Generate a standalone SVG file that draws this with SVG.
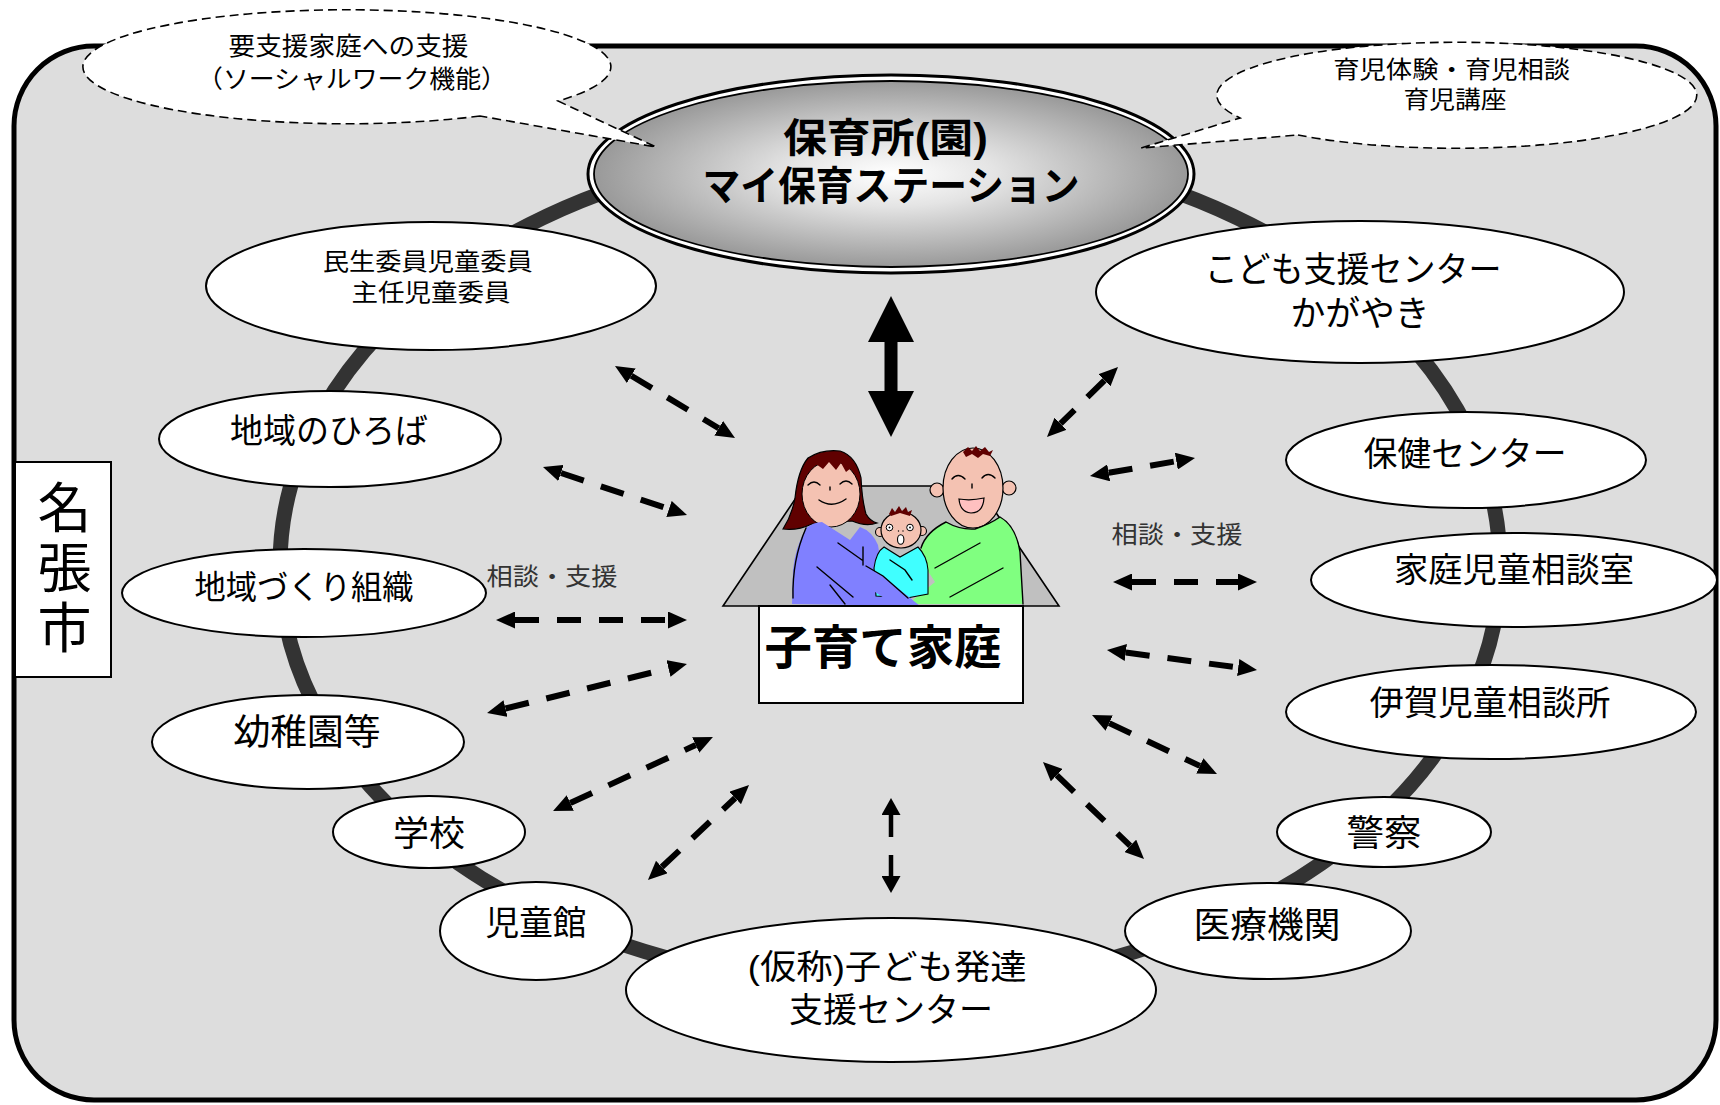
<svg xmlns="http://www.w3.org/2000/svg" width="1720" height="1105" viewBox="0 0 1720 1105">
  <style>
    .t { font-family: 'Liberation Sans', 'Noto Sans CJK JP', sans-serif; fill: #000; text-anchor: middle; }
    .b { font-weight: bold; }
    .note { fill: #333; }
    .node ellipse { fill: #fff; stroke: #000; stroke-width: 2; }
    .bubble { fill: #fff; stroke: #000; stroke-width: 1.6; stroke-dasharray: 9 5; }
    .arr { fill: none; stroke: #000; stroke-width: 6; stroke-dasharray: 24 18; marker-start: url(#ah); marker-end: url(#ah); }
    .arr-s { fill: none; stroke: #000; stroke-width: 4.5; stroke-dasharray: 22 18; marker-start: url(#ahs); marker-end: url(#ahs); }
    .ln { fill: none; stroke: #000; stroke-width: 1.4; stroke-linecap: round; }
  </style>
  <defs>
    <radialGradient id="hub" cx="0.5" cy="0.5" r="0.5">
      <stop offset="0" stop-color="#ffffff"/>
      <stop offset="0.35" stop-color="#e4e4e4"/>
      <stop offset="1" stop-color="#999999"/>
    </radialGradient>
    <marker id="ah" viewBox="0 0 19 17" markerWidth="19" markerHeight="17" markerUnits="userSpaceOnUse" refX="0" refY="8.5" orient="auto-start-reverse">
      <path d="M0,0 L19,8.5 L0,17 Z" fill="#000"/>
    </marker>
    <marker id="ahs" viewBox="0 0 17 19" markerWidth="17" markerHeight="19" markerUnits="userSpaceOnUse" refX="0" refY="9.5" orient="auto-start-reverse">
      <path d="M0,0 L17,9.5 L0,19 Z" fill="#000"/>
    </marker>
  </defs>

  <rect width="1720" height="1105" fill="#fff"/>
  <!-- city frame -->
  <rect x="14" y="46" width="1702" height="1054" rx="80" ry="80" fill="#dddddd" stroke="#000" stroke-width="5"/>

  <!-- network ring -->
  <ellipse cx="890" cy="565" rx="610" ry="422" fill="none" stroke="#333" stroke-width="15"/>

  <!-- city label, set vertically -->
  <g id="city">
    <rect x="15" y="462" width="96" height="215" fill="#fff" stroke="#000" stroke-width="2"/>
    <text class="t" x="60" y="570" font-size="54" writing-mode="vertical-rl" letter-spacing="6">名張市</text>
  </g>

  <!-- hub -->
  <g id="hub-station">
    <ellipse cx="891" cy="174" rx="303" ry="99" fill="#fff" stroke="#000" stroke-width="3"/>
    <ellipse cx="891" cy="174" rx="297" ry="93" fill="url(#hub)" stroke="#000" stroke-width="1.8"/>
    <text class="t b" font-size="40">
      <tspan x="891" y="152" textLength="205" lengthAdjust="spacingAndGlyphs">保育所(園)</tspan>
      <tspan x="891" y="200" textLength="377" lengthAdjust="spacingAndGlyphs">マイ保育ステーション</tspan>
    </text>
  </g>

  <g id="minsei" class="node">
    <ellipse cx="431" cy="286" rx="225" ry="64"/>
    <text class="t" font-size="24">
      <tspan x="431" y="270" textLength="210" lengthAdjust="spacingAndGlyphs">民生委員児童委員</tspan>
      <tspan x="431" y="301" textLength="159" lengthAdjust="spacingAndGlyphs">主任児童委員</tspan>
    </text>
  </g>
  <g id="kagayaki" class="node">
    <ellipse cx="1360" cy="292" rx="264" ry="71"/>
    <text class="t" font-size="35">
      <tspan x="1358" y="282" textLength="297" lengthAdjust="spacingAndGlyphs">こども支援センター</tspan>
      <tspan x="1360" y="326" textLength="139" lengthAdjust="spacingAndGlyphs">かがやき</tspan>
    </text>
  </g>
  <g id="hiroba" class="node">
    <ellipse cx="330" cy="439" rx="171" ry="48"/>
    <text class="t" x="329" y="443" font-size="34" textLength="198" lengthAdjust="spacingAndGlyphs">地域のひろば</text>
  </g>
  <g id="hoken" class="node">
    <ellipse cx="1466" cy="460" rx="180" ry="48"/>
    <text class="t" x="1465" y="466" font-size="34" textLength="203" lengthAdjust="spacingAndGlyphs">保健センター</text>
  </g>
  <g id="chiiki" class="node">
    <ellipse cx="304" cy="593" rx="182" ry="44"/>
    <text class="t" x="304" y="599" font-size="33" textLength="219" lengthAdjust="spacingAndGlyphs">地域づくり組織</text>
  </g>
  <g id="katei" class="node">
    <ellipse cx="1514" cy="580" rx="203" ry="47"/>
    <text class="t" x="1514" y="582" font-size="34" textLength="240" lengthAdjust="spacingAndGlyphs">家庭児童相談室</text>
  </g>
  <g id="yochien" class="node">
    <ellipse cx="308" cy="742" rx="156" ry="47"/>
    <text class="t" x="307" y="745" font-size="36" textLength="147" lengthAdjust="spacingAndGlyphs">幼稚園等</text>
  </g>
  <g id="iga" class="node">
    <ellipse cx="1491" cy="712" rx="205" ry="47"/>
    <text class="t" x="1490" y="715" font-size="34" textLength="241" lengthAdjust="spacingAndGlyphs">伊賀児童相談所</text>
  </g>
  <g id="gakko" class="node">
    <ellipse cx="429" cy="832" rx="96" ry="36"/>
    <text class="t" x="429" y="846" font-size="35" textLength="72" lengthAdjust="spacingAndGlyphs">学校</text>
  </g>
  <g id="keisatsu" class="node">
    <ellipse cx="1384" cy="832" rx="107" ry="35"/>
    <text class="t" x="1384" y="846" font-size="36" textLength="75" lengthAdjust="spacingAndGlyphs">警察</text>
  </g>
  <g id="jidokan" class="node">
    <ellipse cx="536" cy="931" rx="96" ry="49"/>
    <text class="t" x="536" y="935" font-size="34" textLength="101" lengthAdjust="spacingAndGlyphs">児童館</text>
  </g>
  <g id="iryo" class="node">
    <ellipse cx="1268" cy="931" rx="143" ry="48"/>
    <text class="t" x="1267" y="938" font-size="36" textLength="147" lengthAdjust="spacingAndGlyphs">医療機関</text>
  </g>
  <g id="hattatsu" class="node">
    <ellipse cx="891" cy="990" rx="265" ry="72"/>
    <text class="t" font-size="34">
      <tspan x="892" y="979" textLength="279" lengthAdjust="spacingAndGlyphs">(仮称)子ども発達</tspan>
      <tspan x="891" y="1022" textLength="204" lengthAdjust="spacingAndGlyphs">支援センター</tspan>
    </text>
  </g>

  <!-- family in the house -->
  <g id="family-home">
    <polygon points="723,606 804,486 978,486 1059,606" fill="#c0c0c0" stroke="#000" stroke-width="1.6"/>
    <!-- mother -->
    <path d="M783,529 Q792,515 795,498 Q798,470 808,458 Q822,449 840,451 Q856,456 861,478 Q862,500 866,514 Q870,521 877,523 Q866,527 852,521 L812,524 Q797,531 783,529 Z" fill="#600000" stroke="#000" stroke-width="1.2"/>
    <ellipse cx="831" cy="494" rx="29" ry="33" fill="#f4c2b2" stroke="#000" stroke-width="1"/>
    <path d="M803,478 Q806,455 830,453 Q855,453 861,480 L851,468 L846,472 L841,463 L836,470 L829,462 L823,469 L816,464 Z" fill="#600000"/>
    <path class="ln" d="M808,485 Q814,479 820,485 M840,484 Q846,478 852,484 M830,487 L830,490 M819,500 Q832,509 846,499"/>
    <path d="M792,604 L793,570 Q795,548 806,528 Q814,522 822,522 L850,540 L860,527 Q872,531 878,545 L882,570 L918,606 Z" fill="#8080ff"/>
    <path class="ln" d="M793,598 Q792,560 806,528 M838,543 L862,560 M863,547 L863,565 M817,567 L853,597 M830,585 L845,604"/>
    <!-- father -->
    <circle cx="937" cy="490" r="7" fill="#f4c2b2" stroke="#000" stroke-width="1.2"/>
    <circle cx="1009" cy="488" r="7" fill="#f4c2b2" stroke="#000" stroke-width="1.2"/>
    <ellipse cx="973" cy="488" rx="30" ry="40" fill="#f4c2b2" stroke="#000" stroke-width="1.2"/>
    <path d="M963,452 L968,447 L972,451 L976,446 L980,451 L985,447 L989,452 L993,450 L990,456 L983,454 L978,458 L972,454 L966,457 Z" fill="#600000"/>
    <path class="ln" d="M952,479 Q958,472 965,479 M982,478 Q988,471 995,478 M972,484 L972,488"/>
    <path d="M959,499 Q971,501 984,498 Q983,513 971,513 Q960,512 959,499 Z" fill="#ffc0c0" stroke="#000" stroke-width="1.2"/>
    <path d="M908,604 L935,582 L926,568 L921,548 Q926,532 946,522 Q960,530 975,529 Q990,524 1000,517 Q1016,526 1020,552 L1023,604 Z" fill="#80ff80"/>
    <path class="ln" d="M921,548 Q926,532 946,522 Q960,530 975,529 Q990,524 1000,517 Q1016,526 1020,552 L1023,604 M980,543 L935,568 M1003,568 L950,597"/>
    <!-- baby -->
    <circle cx="880" cy="532" r="4.5" fill="#f4c2b2" stroke="#000" stroke-width="1.1"/>
    <circle cx="922" cy="531" r="4.5" fill="#f4c2b2" stroke="#000" stroke-width="1.1"/>
    <ellipse cx="901" cy="530" rx="20" ry="18" fill="#f4c2b2" stroke="#000" stroke-width="1.2"/>
    <path d="M889,514 L892,508 L895,512 L899,506 L902,511 L906,507 L908,512 L912,510 L910,516 L900,513 L891,516 Z" fill="#600000"/>
    <circle cx="889.5" cy="527.5" r="3.3" fill="#fff" stroke="#000" stroke-width="1"/>
    <circle cx="910" cy="527.5" r="3.3" fill="#fff" stroke="#000" stroke-width="1"/>
    <circle cx="889.5" cy="527.5" r="0.9" fill="#000"/>
    <circle cx="910" cy="527.5" r="0.9" fill="#000"/>
    <circle cx="898.5" cy="531" r="0.7" fill="#000"/>
    <circle cx="903" cy="531" r="0.7" fill="#000"/>
    <ellipse cx="900.7" cy="539.5" rx="3.2" ry="4.8" fill="#fff" stroke="#000" stroke-width="1.1"/>
    <path d="M876,596 L874,568 Q876,552 884,547 L900,557 L918,547 Q927,556 928,570 L928,594 L907,598 Z" fill="#40ffff" stroke="#000" stroke-width="1.1"/>
    <path class="ln" d="M890,560 L905,570 L912,580"/>
    <!-- mother's arm in front of the baby -->
    <path d="M866,566 L883,576 L920,606 L896,606 L860,582 Z" fill="#8080ff"/>
    <path class="ln" d="M866,566 L883,576 L908,598"/>
    <!-- name plate -->
    <rect x="759" y="606" width="264" height="97" fill="#fff" stroke="#000" stroke-width="2"/>
    <text class="t b" x="883" y="664" font-size="47" textLength="237" lengthAdjust="spacingAndGlyphs">子育て家庭</text>
  </g>

  <!-- connectors -->
  <g id="connectors">
    <polygon points="891,296 914,342 897.5,342 897.5,391 914,391 891,437 868,391 884.5,391 884.5,342 868,342" fill="#000"/>
    <line class="arr" x1="631.3" y1="375.8" x2="718.7" y2="428.2"/>
    <line class="arr" x1="1104.5" y1="380.3" x2="1060.5" y2="423.7"/>
    <line class="arr" x1="561" y1="473" x2="669" y2="509"/>
    <line class="arr" x1="1108.7" y1="472.8" x2="1176.3" y2="461.2"/>
    <line class="arr" x1="515" y1="620" x2="668" y2="620"/>
    <line class="arr" x1="1132" y1="582" x2="1238" y2="582"/>
    <line class="arr" x1="505.5" y1="708.5" x2="668.5" y2="668.5"/>
    <line class="arr" x1="1125.8" y1="652.5" x2="1238.2" y2="667.5"/>
    <line class="arr" x1="570.3" y1="803" x2="695.7" y2="745"/>
    <line class="arr" x1="1109.2" y1="723.1" x2="1199.8" y2="765.9"/>
    <line class="arr" x1="661.8" y1="867" x2="735.2" y2="798"/>
    <line class="arr" x1="1056.7" y1="775.2" x2="1130.3" y2="845.8"/>
    <line class="arr-s" x1="891" y1="815" x2="891" y2="876"/>
    <text class="t note" x="552" y="585" font-size="24" textLength="131" lengthAdjust="spacingAndGlyphs">相談・支援</text>
    <text class="t note" x="1177" y="543" font-size="24" textLength="131" lengthAdjust="spacingAndGlyphs">相談・支援</text>
  </g>

  <!-- speech bubbles -->
  <g id="bubble-social-work">
    <path class="bubble" d="M480,116 A264 57 0 1 1 558,101 L656,147 Z"/>
    <text class="t" font-size="25">
      <tspan x="352" y="55" textLength="240" lengthAdjust="spacingAndGlyphs">要支援家庭への支援</tspan>
      <tspan x="352" y="88" textLength="310" lengthAdjust="spacingAndGlyphs">（ソーシャルワーク機能）</tspan>
    </text>
  </g>
  <g id="bubble-childcare">
    <path class="bubble" d="M1298,135 A240 53 0 1 0 1240,118 L1141,148 Z"/>
    <text class="t" font-size="24">
      <tspan x="1455" y="78" textLength="237" lengthAdjust="spacingAndGlyphs">育児体験・育児相談</tspan>
      <tspan x="1455" y="108" textLength="103" lengthAdjust="spacingAndGlyphs">育児講座</tspan>
    </text>
  </g>
</svg>
